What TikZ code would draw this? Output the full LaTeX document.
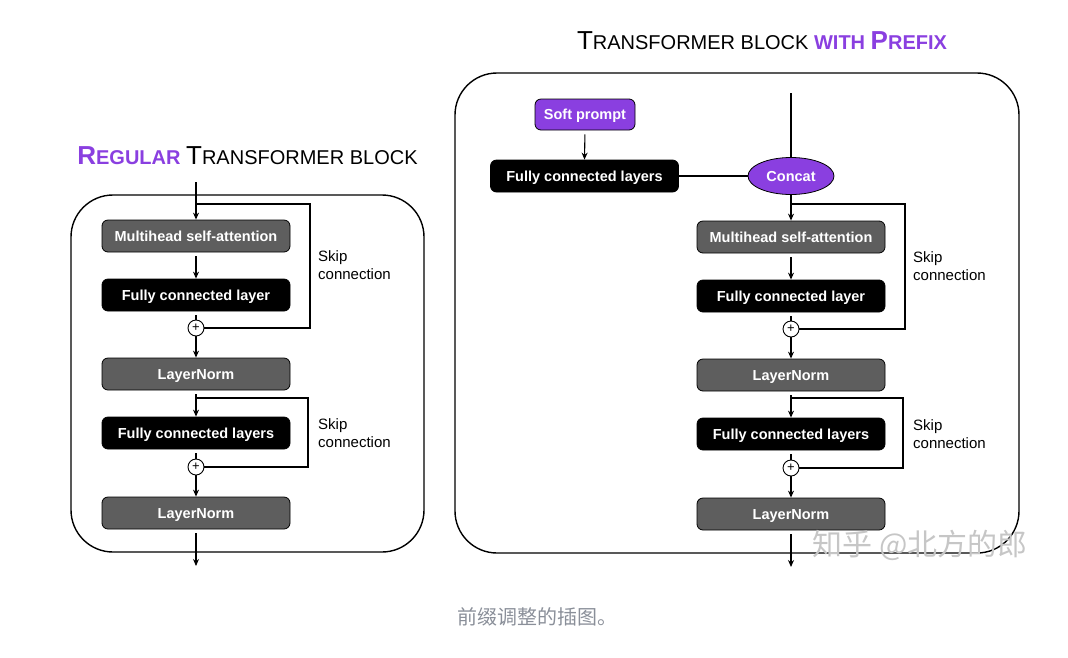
\documentclass[tikz,border=0pt]{standalone}
\usepackage{fontspec}
\setmainfont{Liberation Sans}
\newfontfamily\cjkfont{Noto Sans CJK SC}
\usetikzlibrary{shapes.geometric,arrows.meta}
\definecolor{tpurple}{HTML}{8A3FE0}
\definecolor{boxgray}{HTML}{5E5E5E}
\definecolor{capgray}{HTML}{8A8F99}
\newcommand{\myBig}[1]{{\fontsize{26}{26}\selectfont #1}}
\newcommand{\mySmall}[1]{{\fontsize{20}{20}\selectfont #1}}
\tikzset{
  blk/.style={draw=black, line width=0.8pt, rounded corners=6pt, minimum width=188pt, minimum height=32pt, inner sep=0pt, text height=10.4pt, text depth=0pt, text=white, font=\fontsize{14.5}{16}\selectfont\bfseries},
  graybox/.style={blk, fill=boxgray},
  blackbox/.style={blk, fill=black},
  softbox/.style={blk, fill=tpurple, minimum width=100pt, minimum height=31pt},
  concatnode/.style={ellipse, draw=black, line width=0.8pt, fill=tpurple, minimum width=86pt, minimum height=37pt, inner sep=0pt, text height=10.4pt, text depth=0pt, text=white, font=\fontsize{14.5}{16}\selectfont\bfseries},
  plusnode/.style={circle, draw=black, line width=0.9pt, fill=white, minimum size=16pt, inner sep=0pt, font=\fontsize{13}{13}\selectfont},
  conn/.style={line width=1.1pt, draw=black},
  arr/.style={conn, -{Stealth[length=7pt,width=6pt]}},
  outer/.style={line width=1.4pt, rounded corners=42pt},
  skiplbl/.style={anchor=north west, align=left, inner sep=0pt, font=\fontsize{15}{18.5}\selectfont},
  titlenode/.style={anchor=base, inner sep=0pt, font=\fontsize{20}{20}\selectfont},
}
\begin{document}
\begin{tikzpicture}[x=1pt,y=-1pt]
\useasboundingbox (0,0) rectangle (1068,657);
% ---------------- titles
\node[titlenode] (ltitle) at (247.5,164) {\textcolor{tpurple}{\bfseries\myBig{R}\mySmall{EGULAR}} \myBig{T}\mySmall{RANSFORMER BLOCK}};
\node[titlenode] (rtitle) at (762,49) {\myBig{T}\mySmall{RANSFORMER BLOCK} \textcolor{tpurple}{\bfseries\mySmall{WITH} \myBig{P}\mySmall{REFIX}}};
% ---------------- left block
\draw[outer] (71,195) rectangle (424,552);
\node[graybox] (lmha) at (196,236) {Multihead self-attention};
\node[blackbox] (lfc1) at (196,295) {Fully connected layer};
\node[plusnode] (lp1) at (196,328) {+};
\node[graybox] (lln1) at (196,374) {LayerNorm};
\node[blackbox] (lfc2) at (196,433) {Fully connected layers};
\node[plusnode] (lp2) at (196,467) {+};
\node[graybox] (lln2) at (196,513) {LayerNorm};
\coordinate (lin) at (196,182);
\coordinate (lout) at (196,566);
\coordinate (ls1) at (196,204);
\coordinate (ls1r) at (310,204);
\coordinate (ls2) at (196,398);
\coordinate (ls2r) at (308,398);
\draw[arr] (lin) -- (lmha.north);
\draw[conn] (ls1) -- (ls1r) |- (lp1.east);
\draw[arr, shorten <=4pt] (lmha.south) -- (lfc1.north);
\draw[conn, shorten <=4pt] (lfc1.south) -- (lp1.north);
\draw[arr] (lp1.south) -- (lln1.north);
\draw[arr, shorten <=4pt] (lln1.south) -- (lfc2.north);
\draw[conn] (ls2) -- (ls2r) |- (lp2.east);
\draw[conn, shorten <=4pt] (lfc2.south) -- (lp2.north);
\draw[arr] (lp2.south) -- (lln2.north);
\draw[arr, shorten <=4pt] (lln2.south) -- (lout);
\node[skiplbl] (lsk1) at (318,250) {Skip\\connection};
\node[skiplbl] (lsk2) at (318,418) {Skip\\connection};
% ---------------- right block
\draw[outer] (455,73) rectangle (1019,553);
\node[softbox] (soft) at (585,114.5) {Soft prompt};
\node[blackbox] (rfc0) at (584.5,176) {Fully connected layers};
\node[concatnode] (concat) at (791,176) {Concat};
\node[graybox] (rmha) at (791,237) {Multihead self-attention};
\node[blackbox] (rfc1) at (791,296) {Fully connected layer};
\node[plusnode] (rp1) at (791,329) {+};
\node[graybox] (rln1) at (791,375) {LayerNorm};
\node[blackbox] (rfc2) at (791,434) {Fully connected layers};
\node[plusnode] (rp2) at (791,468) {+};
\node[graybox] (rln2) at (791,514) {LayerNorm};
\coordinate (rin) at (791,93);
\coordinate (rout) at (791,567);
\coordinate (rs1) at (791,204);
\coordinate (rs1r) at (905,204);
\coordinate (rs2) at (791,398);
\coordinate (rs2r) at (903,398);
\draw[arr, shorten <=4pt] (soft.south) -- (rfc0.north);
\draw[conn] (rfc0.east) -- (concat.west);
\draw[conn] (rin) -- (concat.north);
\draw[arr] (concat.south) -- (rmha.north);
\draw[conn] (rs1) -- (rs1r) |- (rp1.east);
\draw[arr, shorten <=4pt] (rmha.south) -- (rfc1.north);
\draw[conn, shorten <=4pt] (rfc1.south) -- (rp1.north);
\draw[arr] (rp1.south) -- (rln1.north);
\draw[arr, shorten <=4pt] (rln1.south) -- (rfc2.north);
\draw[conn] (rs2) -- (rs2r) |- (rp2.east);
\draw[conn, shorten <=4pt] (rfc2.south) -- (rp2.north);
\draw[arr] (rp2.south) -- (rln2.north);
\draw[arr, shorten <=4pt] (rln2.south) -- (rout);
\node[skiplbl] (rsk1) at (913,251) {Skip\\connection};
\node[skiplbl] (rsk2) at (913,419) {Skip\\connection};
% ---------------- watermark and caption
\node[text=gray!45, font=\cjkfont\fontsize{30}{30}\selectfont] (wm) at (920,545) {知乎 @北方的郎};
\node[text=capgray, font=\cjkfont\fontsize{20}{20}\selectfont] (cap) at (537,617) {前缀调整的插图。};
\end{tikzpicture}
\end{document}
